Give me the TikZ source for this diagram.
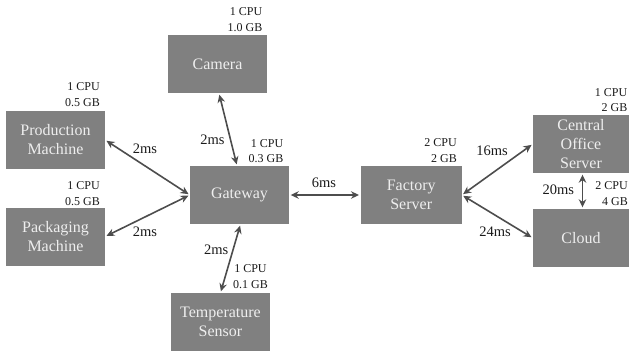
\documentclass[tikz,border=0pt]{standalone}
\usepackage{fontspec}
\setmainfont{Liberation Serif}
\newfontfamily\tnr{Liberation Serif}
\usetikzlibrary{arrows.meta}
\definecolor{boxgray}{HTML}{808080}
\definecolor{boxtext}{HTML}{EEEEEE}
\definecolor{arrowgray}{HTML}{4D4D4D}
\definecolor{lbltext}{HTML}{1A1A1A}
\tikzset{
  dev/.style={draw=none, fill=boxgray, text=boxtext, minimum height=58pt, inner sep=0pt,
    align=center, font=\tnr\fontsize{16}{19}\selectfont},
  res/.style={text=lbltext, inner sep=0pt, align=right, font=\tnr\fontsize{12}{15.5}\selectfont},
  lat/.style={text=lbltext, inner sep=0pt, font=\tnr\fontsize{14.5}{16}\selectfont},
  link/.style={draw=arrowgray, line width=1.6pt, {Stealth[length=8pt,width=7.5pt]}-{Stealth[length=8pt,width=7.5pt]}, shorten <=1.5pt, shorten >=1.5pt}
}
\begin{document}
\begin{tikzpicture}[x=1pt,y=-1pt]
\useasboundingbox (0,0) rectangle (629,356);
% devices
\node[dev, minimum width=99pt] (cam) at (217.5,64) {Camera};
\node[dev, minimum width=99pt] (prod) at (55.5,140) {Production\\Machine};
\node[dev, minimum width=99pt] (pack) at (55.5,236.5) {Packaging\\Machine};
\node[dev, minimum width=99pt] (gw) at (239.5,195) {Gateway};
\node[dev, minimum width=99pt] (temp) at (220.5,322) {Temperature\\Sensor};
\node[dev, minimum width=101pt] (fac) at (411.2,195) {Factory\\Server};
\node[dev, minimum width=96pt] (cos) at (581,144) {Central\\Office\\Server};
\node[dev, minimum width=96pt] (cloud) at (581,238) {Cloud};
% resources
\node[res, anchor=east] (rcam) at (262.5,19.5) {1 CPU\\1.0 GB};
\node[res, anchor=east] (rprod) at (100,94.5) {1 CPU\\0.5 GB};
\node[res, anchor=east] (rpack) at (100,193.5) {1 CPU\\0.5 GB};
\node[res, anchor=east] (rgw) at (283.5,151) {1 CPU\\0.3 GB};
\node[res, align=center] (rtemp) at (250.5,276.5) {1 CPU\\0.1 GB};
\node[res, anchor=east] (rfac) at (457,150.5) {2 CPU\\2 GB};
\node[res, anchor=east] (rcos) at (627.5,100) {1 CPU\\2 GB};
\node[res, anchor=east] (rcloud) at (628,193.5) {2 CPU\\4 GB};
% links
\draw[link] ([xshift=1.5pt]cam.south) -- ([xshift=-2.5pt]gw.north);
\draw[link] (prod.east) -- (gw.west);
\draw[link] (pack.east) -- (gw.west);
\draw[link] (gw.east) -- (fac.west);
\draw[link] ([xshift=1pt]gw.south) -- (temp.north);
\draw[link] (fac.east) -- (cos.west);
\draw[link] (fac.east) -- (cloud.west);
\draw[link] ([xshift=1.5pt]cos.south) -- ([xshift=1.5pt]cloud.north);
% latencies
\node[lat] (lcam) at (212.5,140) {2ms};
\node[lat] (lprod) at (145,148.3) {2ms};
\node[lat] (lpack) at (145,231.7) {2ms};
\node[lat] (lfac) at (324,182.3) {6ms};
\node[lat] (ltemp) at (216.3,250) {2ms};
\node[lat] (lcos) at (492,150.7) {16ms};
\node[lat] (lcloud) at (495,231.7) {24ms};
\node[lat] (lcc) at (558.3,190) {20ms};
\end{tikzpicture}
\end{document}
